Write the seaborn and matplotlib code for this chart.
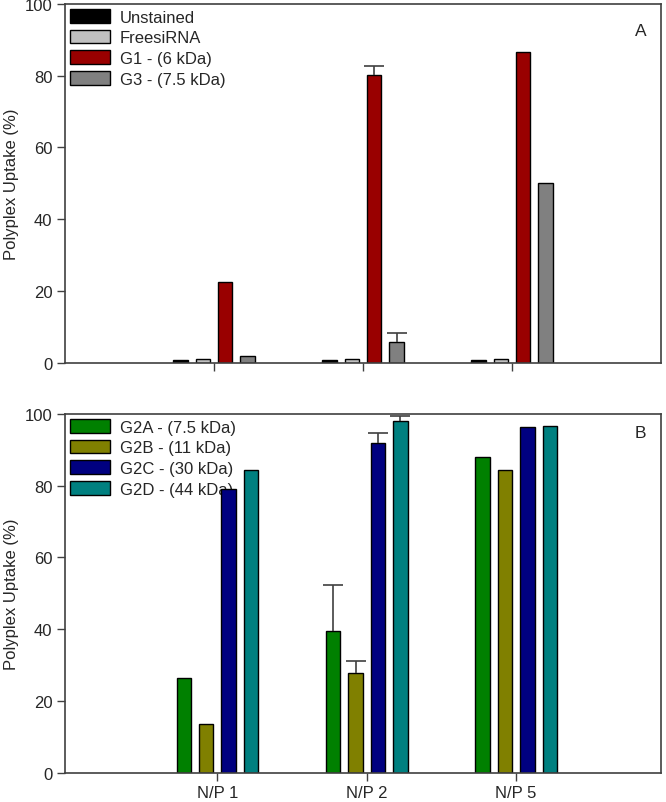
import matplotlib
matplotlib.use('Agg')
import matplotlib.pyplot as plt
import pandas as pd
import seaborn as sns

NP_LABELS = ['N/P 1', 'N/P 2', 'N/P 5']

# panel A
A_SERIES = ['Unstained', 'FreesiRNA', 'G1 - (6 kDa)', 'G3 - (7.5 kDa)']
A_COLORS = ['#000000', '#c0c0c0', '#990000', '#808080']
A_VALUES = [
    [0.7, 0.7, 0.7],
    [0.9, 0.9, 0.9],
    [22.4, 80.1, 86.6],
    [1.7, 5.8, 50.2],
]
A_ERRORS = [
    [0, 0, 0],
    [0, 0, 0],
    [0, 2.6, 0],
    [0, 2.4, 0],
]

# panel B
B_SERIES = ['G2A - (7.5 kDa)', 'G2B - (11 kDa)', 'G2C - (30 kDa)', 'G2D - (44 kDa)']
B_COLORS = ['#008000', '#808000', '#000080', '#008080']
B_VALUES = [
    [26.4, 39.4, 88.1],
    [13.6, 27.8, 84.5],
    [79.0, 91.8, 96.3],
    [84.3, 98.1, 96.7],
]
B_ERRORS = [
    [0, 13.0, 0],
    [0, 3.4, 0],
    [0, 2.8, 0],
    [0, 1.4, 0],
]


def to_frame(series, values):
    rows = []
    for name, vals in zip(series, values):
        for np_label, v in zip(NP_LABELS, vals):
            rows.append({'np': np_label, 'series': name, 'value': v})
    return pd.DataFrame(rows)


def _panel(ax, series, colors, values, errors, letter, letter_y, xlim, show_xlabels):
    df = to_frame(series, values)
    sns.barplot(data=df, x='np', y='value', hue='series', hue_order=series,
                palette=colors, saturation=1, width=0.6, gap=0.36,
                edgecolor='black', linewidth=1, errorbar=None, ax=ax)

    # one-sided (upper) error bars on top of the bars
    for cont, errs in zip(ax.containers, errors):
        for patch, e in zip(cont, errs):
            if e <= 0:
                continue
            xc = patch.get_x() + patch.get_width() / 2
            _, caps, _ = ax.errorbar([xc], [patch.get_height()], yerr=[[0], [e]],
                                     fmt='none', ecolor='#404040', elinewidth=1.2,
                                     capsize=7, capthick=1.2)
            caps[0].set_visible(False)

    ax.set_ylim(0, 100)
    ax.set_yticks(range(0, 101, 20))
    ax.set_xlim(*xlim)
    ax.set_xlabel('')
    ax.set_ylabel('Polyplex Uptake (%)', fontsize=12)
    ax.get_yaxis().set_label_coords(-0.078, 0.5)
    if not show_xlabels:
        ax.set_xticklabels([])
    for s in ax.spines.values():
        s.set_visible(True)
        s.set_color('#404040')
        s.set_linewidth(1.2)
    ax.tick_params(axis='both', direction='out', length=6, width=1,
                   color='#404040', labelsize=12, pad=3)
    leg = ax.legend(loc='upper left', bbox_to_anchor=(0, 1), borderaxespad=0.2,
                    frameon=False, fontsize=12, handlelength=2.4, handleheight=0.9,
                    handletextpad=0.6, labelspacing=0.3, borderpad=0.1)
    leg.set_zorder(0.5)
    ax.text(0.966, letter_y, letter, transform=ax.transAxes, fontsize=12.5,
            ha='center', va='center')


sns.set_style('ticks')
plt.rcParams['font.family'] = ['Liberation Sans', 'DejaVu Sans']

fig = plt.figure(figsize=(6.66, 8.03), dpi=100)
ax1 = fig.add_axes([0.0976, 0.5473, 0.895, 0.4465])
ax2 = fig.add_axes([0.0976, 0.0367, 0.895, 0.4465])

_panel(ax1, A_SERIES, A_COLORS, A_VALUES, A_ERRORS, 'A', 0.925, (-1.0, 3.0), False)
_panel(ax2, B_SERIES, B_COLORS, B_VALUES, B_ERRORS, 'B', 0.947, (-1.02, 2.97), True)

fig.savefig('out.png', dpi=100)
